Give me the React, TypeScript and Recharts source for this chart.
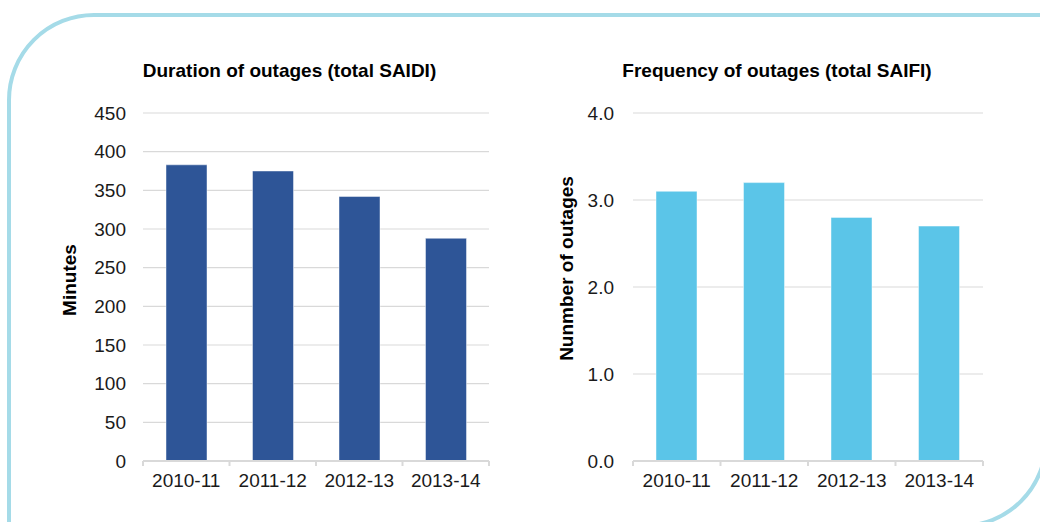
import React from 'react';
import { BarChart, Bar, XAxis, YAxis, CartesianGrid } from 'recharts';

const categories = ['2010-11', '2011-12', '2012-13', '2013-14'];
const saidiMinutes = [383, 375, 342, 288];
const saifiOutages = [3.1, 3.2, 2.8, 2.7];
const saidiTicks = [0, 50, 100, 150, 200, 250, 300, 350, 400, 450];
const saifiTicks = [0, 1, 2, 3, 4];

const saidiData = categories.map((c, i) => ({ period: c, value: saidiMinutes[i] }));
const saifiData = categories.map((c, i) => ({ period: c, value: saifiOutages[i] }));

const FONT = '"Liberation Sans", Arial, sans-serif';
const GRID = '#d9d9d9';
const TEXT = '#1a1a1a';
const FS = 19;

const CHART_W = 520;
const CHART_H = 522;
const PLOT_TOP = 113;
const XAXIS_H = 30;
const BOTTOM_MARGIN = 31;

function makeTick(bandWidth: number, count: number) {
  return (props: any) => {
    const { x, y, payload, index } = props;
    const axisY = y - 13;
    const half = bandWidth / 2;
    return (
      <g>
        <line x1={x - half} x2={x - half} y1={axisY} y2={axisY + 5} stroke={GRID} strokeWidth={2} />
        {index === count - 1 && (
          <line x1={x + half} x2={x + half} y1={axisY} y2={axisY + 5} stroke={GRID} strokeWidth={2} />
        )}
        <text x={x} y={y} dy="0.68em" textAnchor="middle" fill={TEXT} fontSize={FS} fontFamily={FONT}>
          {payload.value}
        </text>
      </g>
    );
  };
}

interface PanelProps {
  data: { period: string; value: number }[];
  left: number;
  yAxisWidth: number;
  rightMargin: number;
  domain: [number, number];
  ticks: number[];
  color: string;
  tickGap: number;
  fmt?: (v: number) => string;
}

function Panel({ data, left, yAxisWidth, rightMargin, domain, ticks, color, tickGap, fmt }: PanelProps) {
  const plotWidth = CHART_W - yAxisWidth - rightMargin;
  const band = plotWidth / data.length;
  return (
    <div style={{ position: 'absolute', left, top: 0, width: CHART_W, height: CHART_H }}>
      <BarChart
        width={CHART_W}
        height={CHART_H}
        data={data}
        margin={{ top: PLOT_TOP, right: rightMargin, bottom: BOTTOM_MARGIN, left: 0 }}
        barCategoryGap={0}
      >
        <CartesianGrid vertical={false} stroke={GRID} strokeWidth={1.2} />
        <XAxis
          dataKey="period"
          height={XAXIS_H}
          axisLine={{ stroke: GRID, strokeWidth: 2 }}
          tickLine={false}
          tickSize={5}
          tickMargin={8}
          interval={0}
          tick={makeTick(band, data.length)}
        />
        <YAxis
          width={yAxisWidth}
          domain={domain}
          ticks={ticks}
          interval={0}
          axisLine={false}
          tickLine={false}
          tickSize={0}
          tickMargin={tickGap}
          tickFormatter={fmt}
          tick={{ fill: TEXT, fontSize: FS, fontFamily: FONT }}
        />
        <Bar
          dataKey="value"
          fill={color}
          barSize={41}
          stroke="#ffffff"
          strokeOpacity={0.45}
          strokeWidth={1}
          isAnimationActive={false}
        />
      </BarChart>
    </div>
  );
}

export default function App() {
  return (
    <div
      style={{
        position: 'fixed',
        left: 0,
        top: 0,
        width: 1040,
        height: 522,
        background: '#ffffff',
        overflow: 'hidden',
        fontFamily: FONT,
      }}
    >
      <svg width={1040} height={522} style={{ position: 'absolute', left: 0, top: 0 }}>
        <path
          d="M 9 540 L 9 100 A 85 85 0 0 1 94 15 L 1046 15 L 1046 441 A 85 85 0 0 1 961 526 Z"
          fill="none"
          stroke="#a5dbe8"
          strokeWidth={4}
        />
        <text x={289.5} y={76.5} textAnchor="middle" fontSize={FS} fontWeight="bold" fill="#000" fontFamily={FONT}>
          Duration of outages (total SAIDI)
        </text>
        <text x={777} y={77} textAnchor="middle" fontSize={FS} fontWeight="bold" fill="#000" fontFamily={FONT}>
          Frequency of outages (total SAIFI)
        </text>
        <text
          transform="translate(75.5 280) rotate(-90)"
          textAnchor="middle"
          fontSize={FS}
          fontWeight="bold"
          fill="#000"
          fontFamily={FONT}
        >
          Minutes
        </text>
        <text
          transform="translate(572.5 268.5) rotate(-90)"
          textAnchor="middle"
          fontSize={FS}
          fontWeight="bold"
          fill="#000"
          fontFamily={FONT}
        >
          Nunmber of outages
        </text>
      </svg>
      <Panel
        data={saidiData}
        left={0}
        yAxisWidth={143}
        rightMargin={31}
        domain={[0, 450]}
        ticks={saidiTicks}
        color="#2e5597"
        tickGap={17}
      />
      <Panel
        data={saifiData}
        left={520}
        yAxisWidth={113}
        rightMargin={57}
        domain={[0, 4]}
        ticks={saifiTicks}
        color="#5bc5e8"
        tickGap={19}
        fmt={(v: number) => v.toFixed(1)}
      />
    </div>
  );
}
